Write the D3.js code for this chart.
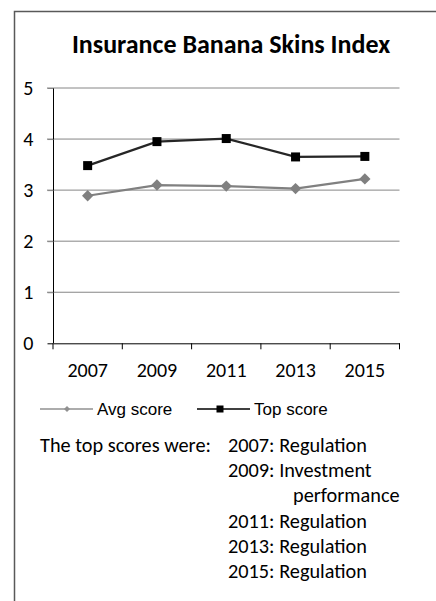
<!DOCTYPE html>
<html>
<head>
<meta charset="utf-8">
<script src="https://cdn.jsdelivr.net/npm/d3@7"></script>
<style>
  body { margin: 0; background: #fff; }
</style>
</head>
<body>
<svg id="chart" width="436" height="601"></svg>
<script>
const years = ['2007', '2009', '2011', '2013', '2015'];
const avgScore = [2.89, 3.10, 3.08, 3.03, 3.22];
const topScore = [3.48, 3.95, 4.01, 3.65, 3.66];
const yTicks = [0, 1, 2, 3, 4, 5];
const topIssues = [
  ['2007: Regulation'],
  ['2009: Investment', 'performance'],
  ['2011: Regulation'],
  ['2013: Regulation'],
  ['2015: Regulation']
];

const bodyFont = 'Carlito, Lato, sans-serif';
const legendFont = '"Liberation Sans", Arial, sans-serif';

const svg = d3.select('#chart');

// outer frame (only top and left edges visible)
svg.append('path')
  .attr('d', 'M14.5,601 V11.5 H436')
  .attr('fill', 'none')
  .attr('stroke', '#595959')
  .attr('stroke-width', 1.5);

svg.append('text')
  .attr('x', 231)
  .attr('y', 53)
  .attr('text-anchor', 'middle')
  .style('font-family', bodyFont)
  .style('font-weight', 'bold')
  .style('font-size', '26px')
  .text('Insurance Banana Skins Index');

const x = d3.scaleBand().domain(years).range([53, 399.5]);
const y = d3.scaleLinear().domain([0, 5]).range([343.3, 88]);

// gridlines
svg.append('g')
  .selectAll('line')
  .data(yTicks.filter((t) => t > 0))
  .enter()
  .append('line')
  .attr('x1', 47)
  .attr('x2', 399.5)
  .attr('y1', (d) => y(d))
  .attr('y2', (d) => y(d))
  .attr('stroke', '#868686')
  .attr('stroke-width', 1);

// y axis
const yAxis = svg.append('g')
  .attr('transform', 'translate(53.5,0)')
  .call(d3.axisLeft(y).tickValues(yTicks).tickFormat(d3.format('d')).tickSize(6).tickPadding(14));
yAxis.select('.domain').attr('stroke', '#000').attr('d', `M0,${y(5)}V${y(0)}`);
yAxis.selectAll('.tick line').attr('stroke', (d) => (d === 0 ? '#000' : '#868686'));
yAxis.selectAll('.tick text')
  .style('font-family', bodyFont)
  .style('font-size', '20px')
  .attr('fill', '#000');

// x axis
const xAxis = svg.append('g')
  .attr('transform', `translate(0,${y(0)})`)
  .call(d3.axisBottom(x).tickSize(0).tickPadding(20));
xAxis.select('.domain').attr('stroke', '#000');
xAxis.selectAll('.tick text')
  .style('font-family', bodyFont)
  .style('font-size', '20px')
  .attr('fill', '#000');
xAxis.append('g')
  .selectAll('line')
  .data(years.map((d) => x(d)).concat([x.range()[1]]))
  .enter()
  .append('line')
  .attr('x1', (d) => d)
  .attr('x2', (d) => d)
  .attr('y1', 0)
  .attr('y2', 6)
  .attr('stroke', '#000');

const cx = (i) => x(years[i]) + x.bandwidth() / 2;
const line = d3.line().x((d, i) => cx(i)).y((d) => y(d));

// avg score series
svg.append('path')
  .datum(avgScore)
  .attr('d', line)
  .attr('fill', 'none')
  .attr('stroke', '#808080')
  .attr('stroke-width', 2.25);
svg.append('g')
  .selectAll('path')
  .data(avgScore)
  .enter()
  .append('path')
  .attr('d', d3.symbol(d3.symbolSquare, 64))
  .attr('transform', (d, i) => `translate(${cx(i)},${y(d)}) rotate(45)`)
  .attr('fill', '#808080');

// top score series
svg.append('path')
  .datum(topScore)
  .attr('d', line)
  .attr('fill', 'none')
  .attr('stroke', '#262626')
  .attr('stroke-width', 2.25);
svg.append('g')
  .selectAll('rect')
  .data(topScore)
  .enter()
  .append('rect')
  .attr('x', (d, i) => cx(i) - 4.5)
  .attr('y', (d) => y(d) - 4.5)
  .attr('width', 9)
  .attr('height', 9)
  .attr('fill', '#000');

// legend
const legend = svg.append('g');
const legendItems = [
  { name: 'Avg score', color: '#909090', x: 40 },
  { name: 'Top score', color: '#000', x: 197 }
];
legendItems.forEach((item, i) => {
  const g = legend.append('g').attr('transform', `translate(${item.x},409)`);
  g.append('line')
    .attr('x1', 0).attr('x2', 53)
    .attr('stroke', item.color)
    .attr('stroke-width', 1.5);
  if (i === 0) {
    g.append('path')
      .attr('d', d3.symbol(d3.symbolSquare, 18))
      .attr('transform', 'translate(27,0) rotate(45)')
      .attr('fill', item.color);
  } else {
    g.append('rect').attr('x', 19.5).attr('y', -3.5).attr('width', 7).attr('height', 7).attr('fill', '#000');
  }
  g.append('text')
    .attr('x', 57)
    .attr('y', 6)
    .style('font-family', legendFont)
    .style('font-size', '17px')
    .text(item.name);
});

// note about top scores
const note = svg.append('g')
  .style('font-family', bodyFont)
  .style('font-size', '20.3px');
note.append('text')
  .attr('x', 40)
  .attr('y', 452)
  .text('The top scores were:');
let row = 0;
topIssues.forEach((lines) => {
  lines.forEach((t, j) => {
    note.append('text')
      .attr('x', j === 0 ? 228 : 293)
      .attr('y', 452 + row * 25.2)
      .text(t);
    row += 1;
  });
});
</script>
</body>
</html>
